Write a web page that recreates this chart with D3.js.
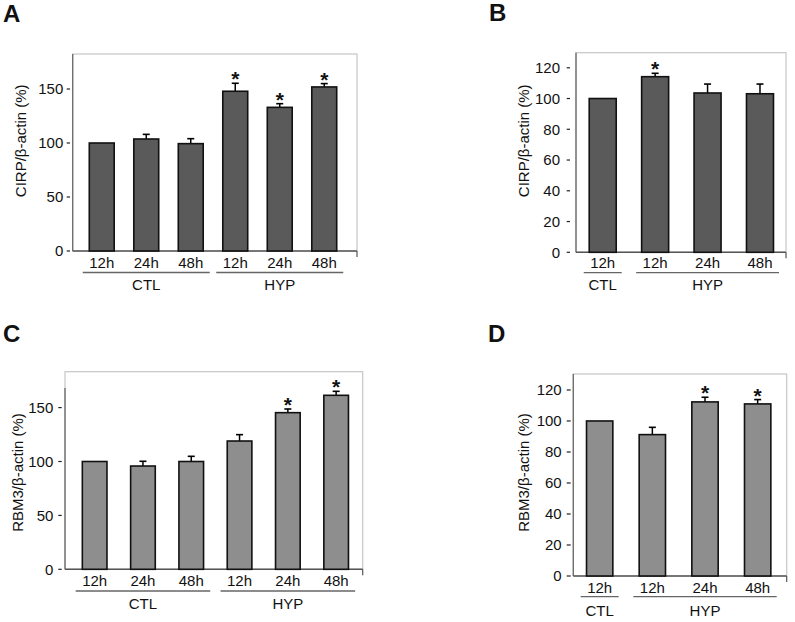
<!DOCTYPE html>
<html>
<head>
<meta charset="utf-8">
<script src="https://cdn.jsdelivr.net/npm/d3@7"></script>
<style>
  html, body { margin: 0; padding: 0; background: #fff; }
  svg { display: block; }
  text { font-family: "Liberation Sans", Arial, Helvetica, sans-serif; fill: #111; }
</style>
</head>
<body>
<svg id="chart" width="795" height="622"></svg>
<script>
// ---------- DATA ----------
const categoriesA = ["12h", "24h", "48h", "12h", "24h", "48h"];
const groupsA     = ["CTL", "CTL", "CTL", "HYP", "HYP", "HYP"];
const valuesA     = [100, 103.7, 99.4, 147.9, 133.0, 151.9];
const errorsA     = [0, 4.3, 4.6, 7.4, 3.4, 3.1];
const sigA        = [false, false, false, true, true, true];
const ticksA      = [0, 50, 100, 150];

const categoriesB = ["12h", "12h", "24h", "48h"];
const groupsB     = ["CTL", "HYP", "HYP", "HYP"];
const valuesB     = [100, 114.2, 103.6, 103.1];
const errorsB     = [0, 2.2, 5.8, 6.3];
const sigB        = [false, true, false, false];
const ticksB      = [0, 20, 40, 60, 80, 100, 120];

const categoriesC = ["12h", "24h", "48h", "12h", "24h", "48h"];
const groupsC     = ["CTL", "CTL", "CTL", "HYP", "HYP", "HYP"];
const valuesC     = [100, 95.8, 100, 119.0, 145.3, 161.4];
const errorsC     = [0, 4.4, 4.8, 5.9, 3.4, 3.7];
const sigC        = [false, false, false, false, true, true];
const ticksC      = [0, 50, 100, 150];

const categoriesD = ["12h", "12h", "24h", "48h"];
const groupsD     = ["CTL", "HYP", "HYP", "HYP"];
const valuesD     = [100, 91.2, 112.3, 111.0];
const errorsD     = [0, 4.7, 3.0, 2.8];
const sigD        = [false, false, true, true];
const ticksD      = [0, 20, 40, 60, 80, 100, 120];

// ---------- LAYOUT ----------
const svg = d3.select("#chart");
const FS = 15;

const panels = [
  { letter: "A", lx: 3, ly: 21.7, yLabel: "CIRP/\u03B2-actin (%)", ylx: 20, yly: 140.8,
    cats: categoriesA, groups: groupsA, vals: valuesA, errs: errorsA, sig: sigA, ticks: ticksA,
    frame: { x0: 72.7, y0: 54, x1: 357, y1: 251 }, leftTop: 54, ymax: 182.4, band: [79.5, 346.5], pad: 0.44,
    fill: "#5a5a5a", tIn: 2.7, tOut: 6, lPad: 9.4, tickDy: 12, lineDy: 21.5, grpDy: 34 },
  { letter: "B", lx: 489, ly: 20.7, yLabel: "CIRP/\u03B2-actin (%)", ylx: 523.3, yly: 140.8,
    cats: categoriesB, groups: groupsB, vals: valuesB, errs: errorsB, sig: sigB, ticks: ticksB,
    frame: { x0: 576, y0: 52.7, x1: 786, y1: 252.3 }, leftTop: 52.7, ymax: 129.8, band: [576.5, 786.2], pad: 0.485,
    fill: "#5a5a5a", tIn: 6, tOut: 9.3, lPad: 16, tickDy: 10.7, lineDy: 20.4, grpDy: 32.7 },
  { letter: "C", lx: 3, ly: 341.7, yLabel: "RBM3/\u03B2-actin (%)", ylx: 17.2, yly: 472.5,
    cats: categoriesC, groups: groupsC, vals: valuesC, errs: errorsC, sig: sigC, ticks: ticksC,
    frame: { x0: 65, y0: 371.7, x1: 362.7, y1: 569.3 }, leftTop: 388, ymax: 183.3, band: [70.5, 360.3], pad: 0.49,
    fill: "#8e8e8e", tIn: 3.3, tOut: 6.7, lPad: 11.7, tickDy: 11.5, lineDy: 21.7, grpDy: 34 },
  { letter: "D", lx: 488, ly: 341.7, yLabel: "RBM3/\u03B2-actin (%)", ylx: 523.3, yly: 472.5,
    cats: categoriesD, groups: groupsD, vals: valuesD, errs: errorsD, sig: sigD, ticks: ticksD,
    frame: { x0: 573.3, y0: 374, x1: 786.7, y1: 576 }, leftTop: 374, ymax: 130.3, band: [573.35, 784], pad: 0.5,
    fill: "#8e8e8e", tIn: 2.6, tOut: 6.6, lPad: 11.6, tickDy: 11.3, lineDy: 20.7, grpDy: 34.7 }
];

function drawPanel(p) {
  const g = svg.append("g");
  const f = p.frame;
  const n = p.vals.length;
  const y = d3.scaleLinear().domain([0, p.ymax]).range([f.y1, f.y0]);
  const x = d3.scaleBand().domain(d3.range(n)).range(p.band)
    .paddingInner(p.pad).paddingOuter(p.pad / 2);
  const cx = i => x(i) + x.bandwidth() / 2;

  g.append("text").attr("x", p.lx).attr("y", p.ly)
    .attr("font-size", 24).attr("font-weight", "bold").text(p.letter);

  g.append("rect").attr("x", f.x0).attr("y", f.y0)
    .attr("width", f.x1 - f.x0).attr("height", f.y1 - f.y0)
    .attr("fill", "none").attr("stroke", "#c6c6c6").attr("stroke-width", 1.2);
  g.append("line").attr("x1", f.x0).attr("x2", f.x0).attr("y1", p.leftTop).attr("y2", f.y1)
    .attr("stroke", "#6a6a6a").attr("stroke-width", 1.3);
  g.append("line").attr("x1", f.x0).attr("x2", f.x1).attr("y1", f.y1).attr("y2", f.y1)
    .attr("stroke", "#555").attr("stroke-width", 1.5);
  g.append("line").attr("x1", f.x1).attr("x2", f.x1).attr("y1", f.y1).attr("y2", f.y1 + 6)
    .attr("stroke", "#555").attr("stroke-width", 1.2);

  const ax = g.append("g").attr("transform", `translate(${f.x0},0)`)
    .call(d3.axisLeft(y).tickValues(p.ticks).tickSize(0).tickPadding(p.lPad));
  ax.select(".domain").remove();
  ax.selectAll("text").attr("font-size", FS).attr("font-family", "Liberation Sans, Arial, sans-serif")
    .attr("fill", "#111");
  g.selectAll(".tk").data(p.ticks).enter().append("line")
    .attr("x1", f.x0 - p.tOut).attr("x2", f.x0 - p.tIn)
    .attr("y1", d => y(d)).attr("y2", d => y(d))
    .attr("stroke", "#222").attr("stroke-width", 1.2);

  g.append("text")
    .attr("transform", `translate(${p.ylx},${p.yly}) rotate(-90)`)
    .attr("text-anchor", "middle").attr("dominant-baseline", "central")
    .attr("font-size", FS).text(p.yLabel);

  const idx = d3.range(n);
  const withErr = idx.filter(i => p.errs[i] > 0);
  g.selectAll(".eb").data(withErr).enter().append("line")
    .attr("x1", cx).attr("x2", cx)
    .attr("y1", i => y(p.vals[i])).attr("y2", i => y(p.vals[i] + p.errs[i]))
    .attr("stroke", "#000").attr("stroke-width", 1.5);
  g.selectAll(".ec").data(withErr).enter().append("line")
    .attr("x1", i => cx(i) - 3.5).attr("x2", i => cx(i) + 3.5)
    .attr("y1", i => y(p.vals[i] + p.errs[i])).attr("y2", i => y(p.vals[i] + p.errs[i]))
    .attr("stroke", "#000").attr("stroke-width", 1.6);

  g.selectAll(".bar").data(idx).enter().append("rect")
    .attr("x", i => x(i)).attr("y", i => y(p.vals[i]))
    .attr("width", x.bandwidth()).attr("height", i => y(0) - y(p.vals[i]))
    .attr("fill", p.fill).attr("stroke", "#111").attr("stroke-width", 1.6);

  g.selectAll(".st").data(idx.filter(i => p.sig[i])).enter().append("text")
    .attr("x", cx).attr("y", i => y(p.vals[i] + p.errs[i]) + 3)
    .attr("text-anchor", "middle").attr("font-size", 21).attr("font-weight", "bold")
    .text("*");

  g.selectAll(".cl").data(idx).enter().append("text")
    .attr("x", cx).attr("y", f.y1 + p.tickDy + 5.4)
    .attr("text-anchor", "middle").attr("font-size", FS).text(i => p.cats[i]);

  const grpNames = Array.from(new Set(p.groups));
  grpNames.forEach(name => {
    const members = idx.filter(i => p.groups[i] === name);
    const xa = cx(members[0]) - 19, xb = cx(members[members.length - 1]) + 19;
    g.append("line").attr("x1", xa).attr("x2", xb)
      .attr("y1", f.y1 + p.lineDy).attr("y2", f.y1 + p.lineDy)
      .attr("stroke", "#666").attr("stroke-width", 1.3);
    g.append("text").attr("x", (xa + xb) / 2).attr("y", f.y1 + p.grpDy + 5.4)
      .attr("text-anchor", "middle").attr("font-size", FS).text(name);
  });
}

panels.forEach(drawPanel);
</script>
</body>
</html>
